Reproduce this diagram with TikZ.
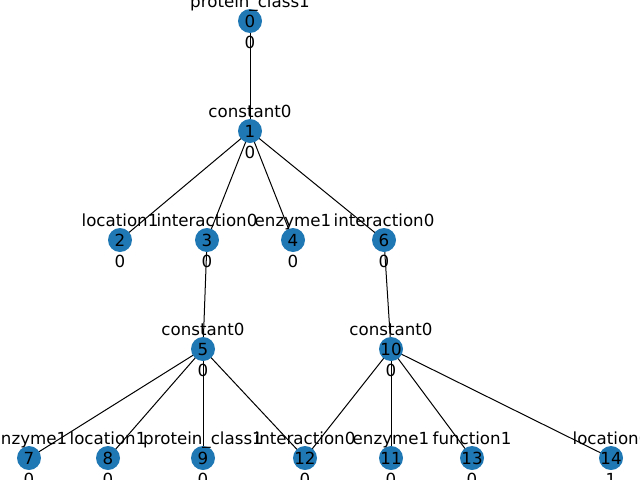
\documentclass[tikz,border=0pt]{standalone}
\usepackage{fontspec}
\setmainfont{DejaVu Sans}
\definecolor{nxblue}{HTML}{1F77B4}
\tikzset{
  vert/.style={circle, fill=nxblue, draw=none, minimum size=24*0.72pt, inner sep=0pt},
  vid/.style={anchor=base, inner sep=0pt, font=\fontsize{12}{14}\selectfont},
  toplab/.style={anchor=base, inner sep=0pt, font=\fontsize{12}{14}\selectfont},
  botlab/.style={anchor=base, inner sep=0pt, font=\fontsize{12}{14}\selectfont},
  edge/.style={draw=black, line width=0.72pt}
}
\begin{document}
\begin{tikzpicture}[x=0.72pt, y=-0.72pt]
\useasboundingbox (0,0) rectangle (640,480);
% vertices
\foreach \n/\x/\y in {0/250/21, 1/250/131, 2/120/240, 3/207/240, 4/293/240, 6/384/240,
  5/203/349, 10/391/349, 7/29/458, 8/108/458, 9/203/458, 12/305/458, 11/391/458, 13/472/458, 14/611/458}
  {\coordinate (c\n) at (\x,\y);}
% edges
\foreach \a/\b in {0/1, 1/2, 1/3, 1/4, 1/6, 3/5, 6/10, 5/7, 5/8, 5/9, 5/12, 10/12, 10/11, 10/13, 10/14}
  {\draw[edge] (c\a) -- (c\b);}
% circles
\foreach \n in {0,1,2,3,4,5,6,7,8,9,10,11,12,13,14}
  {\node[vert] (n\n) at (c\n) {};}
% ids
\foreach \n in {0,1,2,3,4,5,6,7,8,9,10,11,12,13,14}
  {\node[vid] (i\n) at ([yshift=-6*0.72pt]c\n) {\n};}
% top labels
\foreach \n/\t in {0/protein\_class1, 1/constant0, 2/location1, 3/interaction0, 4/enzyme1, 6/interaction0,
  5/constant0, 10/constant0, 7/enzyme1, 8/location1, 9/protein\_class1, 12/interaction0, 11/enzyme1, 13/function1, 14/location0}
  {\node[toplab] (t\n) at ([yshift=14*0.72pt]c\n) {\t};}
% bottom labels
\foreach \n/\t in {0/0, 1/0, 2/0, 3/0, 4/0, 6/0, 5/0, 10/0, 7/0, 8/0, 9/0, 12/0, 11/0, 13/0, 14/1}
  {\node[botlab] (b\n) at ([yshift=-27*0.72pt]c\n) {\t};}
\end{tikzpicture}
\end{document}
